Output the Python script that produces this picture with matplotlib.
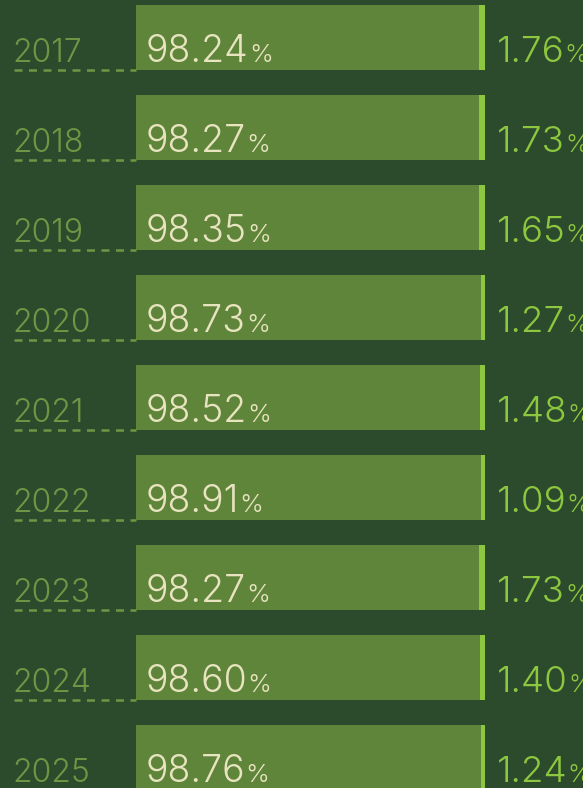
import matplotlib
matplotlib.use("Agg")
import matplotlib.pyplot as plt

# data
years = ["2017", "2018", "2019", "2020", "2021", "2022", "2023", "2024", "2025"]
share_main = [98.24, 98.27, 98.35, 98.73, 98.52, 98.91, 98.27, 98.60, 98.76]
share_rest = [1.76, 1.73, 1.65, 1.27, 1.48, 1.09, 1.73, 1.40, 1.24]

bg = "#2c4a2c"
bar_main = "#5e853a"
bar_rest = "#8dc63f"
year_col = "#6e9645"
val_col = "#e8e4c0"
fam = "Inter"
wt = 300

W, H = 583, 788
fig = plt.figure(figsize=(W / 100, H / 100), dpi=100, facecolor=bg)
ax = fig.add_axes([0, 0, 1, 1])
ax.set_facecolor(bg)

# 100% maps to 349 px starting at x=136 px
px = 349 / 100
ax.set_xlim(-136 / px, (W - 136) / px)
pitch = 90
ax.set_ylim((H - 37.5) / pitch, -37.5 / pitch)
ax.axis("off")

idx = list(range(len(years)))
h = 65 / pitch
ax.barh(idx, share_main, height=h, color=bar_main, linewidth=0)
ax.barh(idx, share_rest, left=share_main, height=h, color=bar_rest, linewidth=0)

fig.canvas.draw()
r = fig.canvas.get_renderer()

def pct_label(x, y, num, color, size):
    t = ax.text(x, y, num, color=color, fontsize=size, family=fam,
                fontweight=wt, va="baseline", ha="left")
    bb = t.get_window_extent(renderer=r)
    # smaller % sign right after the number
    xd = ax.transData.inverted().transform((bb.x1, 0))[0]
    ax.text(xd, y, "%", color=color, fontsize=size * 0.68, family=fam,
            fontweight=wt, va="baseline", ha="left")

base = 24.5 / pitch
x_year = (12 - 136) / px
for i, yr in enumerate(years):
    yb = i + base
    ax.text(x_year, yb, yr, color=year_col, fontsize=23, family=fam,
            fontweight=wt, va="baseline", ha="left")
    ax.plot([(14 - 136) / px, 0], [i + h / 2, i + h / 2], color=year_col,
            lw=1.8, dashes=(3.2, 2.6))
    pct_label(10 / px, yb, f"{share_main[i]:.2f}", val_col, 27)
    pct_label(100 + 12 / px, yb, f"{share_rest[i]:.2f}", bar_rest, 26.5)

fig.savefig("out.png", dpi=100, facecolor=bg)
